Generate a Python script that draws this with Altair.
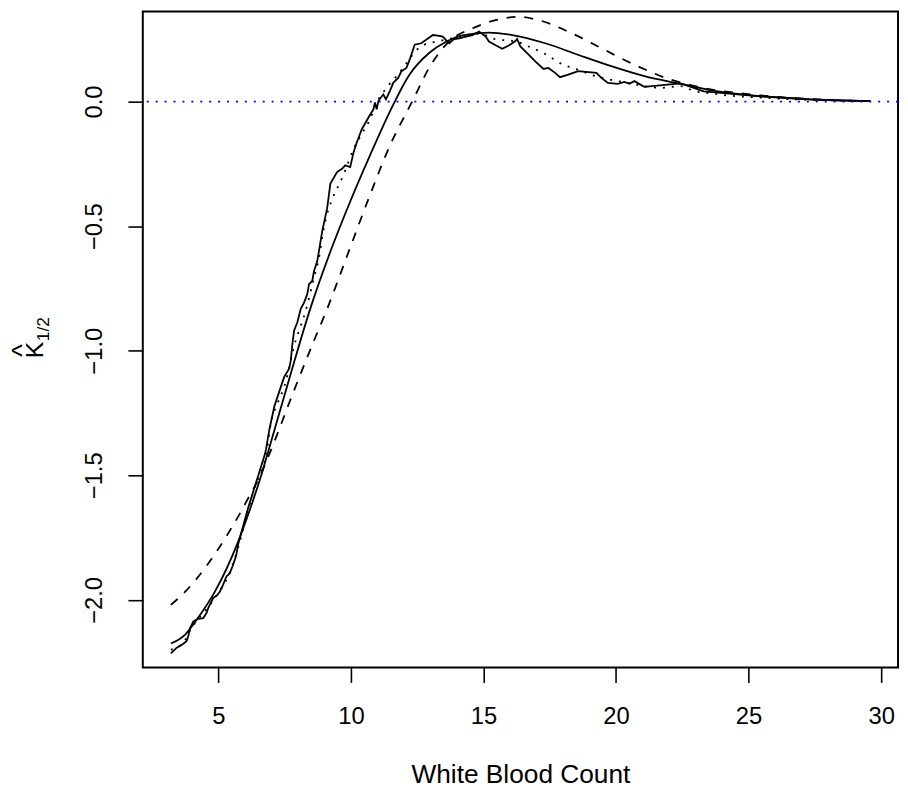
import altair as alt
import pandas as pd

# ---- data (data units) ----
# jagged empirical curve (solid)
jag_x = [3.207,3.432,3.682,3.806,3.869,3.933,4.056,4.243,4.430,4.553,
         4.617,4.804,4.964,5.054,5.178,5.301,5.428,5.551,5.675,5.738,
         5.802,6.112,6.422,6.736,6.796,6.923,7.110,7.357,7.484,7.671,
         7.731,7.794,7.858,7.981,8.105,8.232,8.355,8.419,8.542,8.606,
         8.729,8.793,8.916,9.103,9.226,9.477,9.664,9.787,9.974,10.101,
         10.224,10.411,10.662,10.849,10.908,10.972,11.036,11.222,11.320,11.469,
         11.596,11.783,11.907,12.093,12.217,12.404,12.654,13.092,13.278,13.465,
         13.589,13.712,13.776,13.899,14.086,14.336,14.587,14.834,15.084,15.207,
         15.458,15.708,15.955,16.206,16.269,16.393,16.703,16.953,17.264,17.450,
         17.701,17.888,18.198,18.385,18.572,19.260,19.447,19.693,20.067,20.318,
         20.505,20.692,21.065,22.438,23.308,24.168,25.428,27.297,29.589]
jag_y = [-2.215,-2.192,-2.176,-2.165,-2.144,-2.113,-2.086,-2.076,-2.073,-2.053,
         -2.033,-1.993,-1.980,-1.967,-1.940,-1.907,-1.894,-1.861,-1.821,-1.781,
         -1.755,-1.635,-1.529,-1.423,-1.397,-1.317,-1.224,-1.145,-1.105,-1.072,
         -1.039,-0.972,-0.919,-0.886,-0.833,-0.807,-0.773,-0.733,-0.720,-0.681,
         -0.641,-0.601,-0.521,-0.429,-0.329,-0.283,-0.270,-0.256,-0.263,-0.203,
         -0.163,-0.111,-0.064,-0.031,-0.004,-0.031,0.002,0.029,0.009,0.042,
         0.075,0.095,0.122,0.135,0.168,0.228,0.234,0.267,0.265,0.261,
         0.247,0.234,0.241,0.251,0.254,0.261,0.267,0.281,0.261,0.241,
         0.226,0.212,0.225,0.243,0.251,0.221,0.188,0.161,0.131,0.135,
         0.115,0.098,0.108,0.115,0.122,0.115,0.095,0.075,0.071,0.079,
         0.071,0.082,0.059,0.073,0.041,0.033,0.021,0.009,0.002]

# smoothed empirical curve (dotted)
dot_x = [3.207,3.682,3.944,4.243,4.617,4.991,5.364,5.738,6.112,6.411,
         6.609,6.796,6.983,7.234,7.484,7.918,8.045,8.292,8.606,8.793,
         8.979,9.353,9.600,9.787,10.101,10.411,10.721,10.972,11.346,11.720,
         11.970,12.280,12.591,12.964,13.215,13.963,14.834,15.458,16.206,16.703,
         17.327,17.951,18.572,19.196,19.821,20.441,21.065,21.690,22.438,22.935,
         23.559,24.179,25.428,26.673,27.918,29.589]
dot_y = [-2.200,-2.172,-2.120,-2.077,-2.029,-1.973,-1.906,-1.794,-1.643,-1.536,
         -1.489,-1.423,-1.290,-1.211,-1.145,-0.959,-0.919,-0.840,-0.707,-0.628,
         -0.508,-0.376,-0.323,-0.276,-0.190,-0.130,-0.071,-0.004,0.055,0.102,
         0.135,0.181,0.218,0.234,0.240,0.257,0.272,0.250,0.242,0.221,
         0.191,0.151,0.127,0.103,0.087,0.075,0.062,0.055,0.062,0.043,
         0.033,0.025,0.016,0.009,0.005,0.002]

# smooth model curve (solid)
smo_x = [3.21,3.75,4.18,4.87,5.74,6.24,6.61,6.86,7.73,8.48,
         9.23,9.97,10.72,11.47,12.22,12.95,13.59,14.21,15.20,16.08,
         17.33,18.56,19.82,21.07,22.44,23.56,25.43,27.30,29.59]
smo_y = [-2.175,-2.139,-2.080,-1.967,-1.768,-1.622,-1.503,-1.412,-1.092,-0.827,
         -0.601,-0.402,-0.216,-0.040,0.110,0.195,0.240,0.266,0.277,0.267,
         0.234,0.188,0.142,0.102,0.071,0.046,0.022,0.009,0.002]

# second model curve (dashed)
das_x = [3.21,3.75,4.62,5.36,5.74,6.11,6.55,6.92,7.86,8.61,
         9.10,9.48,9.85,10.72,11.47,12.34,12.95,13.70,14.59,15.46,
         16.32,17.07,18.33,19.45,20.69,22.06,22.93,25.43,27.30,29.59]
das_y = [-2.020,-1.967,-1.854,-1.735,-1.667,-1.595,-1.508,-1.416,-1.158,-0.959,
         -0.833,-0.727,-0.621,-0.375,-0.177,0.006,0.135,0.241,0.294,0.327,
         0.340,0.327,0.274,0.214,0.148,0.088,0.063,0.025,0.010,0.002]

zero_line = [0.0]
x_ticks = [5, 10, 15, 20, 25, 30]
y_ticks = [-2.0, -1.5, -1.0, -0.5, 0.0]
x_title = "White Blood Count"

rows = []
for name, xs, ys in [("jagged", jag_x, jag_y), ("dotted", dot_x, dot_y),
                     ("smooth", smo_x, smo_y), ("dashed", das_x, das_y)]:
    for i, (a, b) in enumerate(zip(xs, ys)):
        rows.append({"series": name, "x": a, "y": b, "order": i})
df = pd.DataFrame(rows)

FONT = "Liberation Sans"
LW = 1.8
xscale = alt.Scale(domain=[2.150, 30.636], nice=False, zero=False)
yscale = alt.Scale(domain=[-2.2717, 0.3616], nice=False, zero=False)

xaxis = alt.Axis(values=x_ticks, title=x_title, labelBaseline="alphabetic",
                 labelPadding=41.6, labelFlush=False, labelOverlap=False,
                 titleBaseline="alphabetic", titleY=115.5, titleFontSize=26.5)
yaxis = alt.Axis(values=y_ticks, format=".1f", title=None, labelAngle=270,
                 labelAlign="center", labelBaseline="alphabetic", labelPadding=27,
                 labelFlush=False, labelOverlap=False)


def curve(name, dash=None, interp="linear"):
    kw = dict(color="black", strokeWidth=LW, interpolate=interp)
    if dash is not None:
        kw["strokeDash"] = dash
    return alt.Chart(df).transform_filter(alt.datum.series == name).mark_line(**kw).encode(
        x=alt.X("x:Q", scale=xscale, axis=xaxis),
        y=alt.Y("y:Q", scale=yscale, axis=yaxis),
        order="order:Q",
    )


jag = curve("jagged")
dot = curve("dotted", dash=[2, 7], interp="monotone")
smo = curve("smooth", interp="monotone")
das = curve("dashed", dash=[9, 9], interp="monotone")

rule = alt.Chart(pd.DataFrame({"y": zero_line})).mark_rule(
    color="#0000FF", strokeWidth=1.7, strokeDash=[2, 7]
).encode(y=alt.Y("y:Q", scale=yscale, axis=yaxis))

one = pd.DataFrame({"a": [0]})
lab_k = alt.Chart(one).mark_text(text="K", angle=270, font=FONT, fontSize=25,
                                 align="center", baseline="alphabetic", color="black").encode(
    x=alt.value(-100.7), y=alt.value(341.5))
lab_hat = alt.Chart(one).mark_text(text="^", angle=270, font=FONT, fontSize=27,
                                   align="center", baseline="alphabetic", color="black").encode(
    x=alt.value(-113), y=alt.value(342))
lab_sub = alt.Chart(one).mark_text(text="1/2", angle=270, font=FONT, fontSize=17.5,
                                   align="center", baseline="alphabetic", color="black").encode(
    x=alt.value(-95), y=alt.value(320.5))

chart = alt.layer(jag, dot, smo, das, rule, lab_k, lab_hat, lab_sub).properties(
    width=762, height=662,
    autosize=alt.AutoSizeParams(type="none"),
    padding={"left": 136, "top": 0, "right": 2, "bottom": 118},
).configure_axis(
    labelFont=FONT, labelFontSize=24, labelColor="black",
    titleFont=FONT, titleFontSize=24, titleFontWeight="normal", titleColor="black",
    tickColor="black", tickWidth=1.6, tickSize=15, domain=False, grid=False,
).configure_view(stroke="black", strokeWidth=2)

chart.save("out.html", embed_options={"renderer": "svg", "actions": False})
